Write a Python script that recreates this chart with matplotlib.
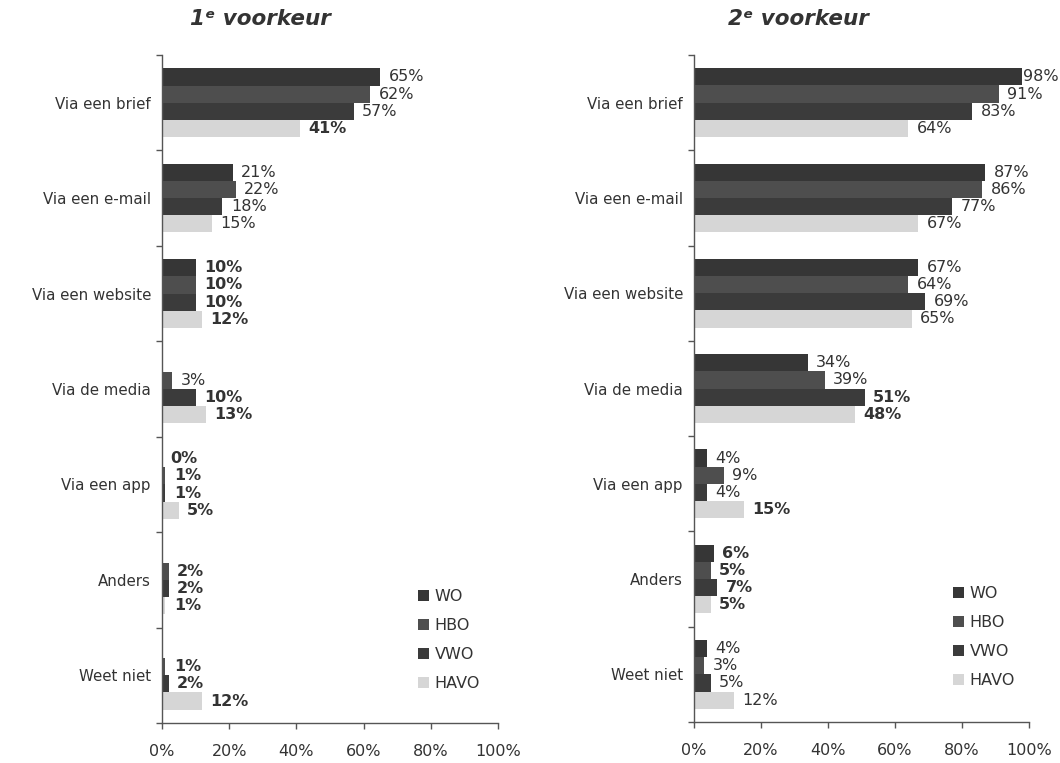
import numpy as np
import matplotlib
matplotlib.use("Agg")
import matplotlib.pyplot as plt
from matplotlib.patches import Patch
from matplotlib.ticker import FixedLocator

categories = ["Via een brief", "Via een e-mail", "Via een website", "Via de media",
              "Via een app", "Anders", "Weet niet"]
series = ["WO", "HBO", "VWO", "HAVO"]

# 1e voorkeur (percent), per category: WO, HBO, VWO, HAVO (nan = not shown)
v1_wo   = [65, 21, 10, np.nan, 0, np.nan, np.nan]
v1_hbo  = [62, 22, 10, 3, 1, 2, 1]
v1_vwo  = [57, 18, 10, 10, 1, 2, 2]
v1_havo = [41, 15, 12, 13, 5, 1, 12]

# 2e voorkeur
v2_wo   = [98, 87, 67, 34, 4, 6, 4]
v2_hbo  = [91, 86, 64, 39, 9, 5, 3]
v2_vwo  = [83, 77, 69, 51, 4, 7, 5]
v2_havo = [64, 67, 65, 48, 15, 5, 12]

titles = ["1\u1d49 voorkeur", "2\u1d49 voorkeur"]
xticks = [0, 20, 40, 60, 80, 100]

# label weight emphasis as seen in the print (style only)
bold1 = {"WO": [0, 0, 1, 0, 1, 0, 0], "HBO": [0, 0, 1, 0, 1, 1, 1],
         "VWO": [0, 0, 1, 1, 1, 1, 1], "HAVO": [1, 0, 1, 1, 1, 1, 1]}
bold2 = {"WO": [0, 0, 0, 0, 0, 1, 0], "HBO": [0, 0, 0, 0, 0, 1, 0],
         "VWO": [0, 0, 0, 1, 0, 1, 0], "HAVO": [0, 0, 0, 1, 1, 1, 0]}

colors = {"WO": "#363636", "HBO": "#4e4e4e", "VWO": "#3b3b3b", "HAVO": "#d6d6d6"}
txt = "#333333"

fig = plt.figure(figsize=(10.6, 7.63), dpi=100)
W, H = 1060, 763
ax1 = fig.add_axes([162 / W, 1 - 723 / H, 336 / W, 668 / H])
ax2 = fig.add_axes([694 / W, 1 - 722 / H, 335 / W, 667 / H])

panels = [
    (ax1, [v1_wo, v1_hbo, v1_vwo, v1_havo], bold1, titles[0], 260, (418, 589)),
    (ax2, [v2_wo, v2_hbo, v2_vwo, v2_havo], bold2, titles[1], 798, (953, 586)),
]

ypos = np.arange(len(categories))
bh = 0.18
offs = [-0.27, -0.09, 0.09, 0.27]

for ax, vals, bold, title, tx, lg in panels:
    for s, v, off in zip(series, vals, offs):
        v = np.array(v, dtype=float)
        ax.barh(ypos + off, np.nan_to_num(v), height=bh, color=colors[s],
                edgecolor="none")
        for i, val in enumerate(v):
            if np.isnan(val):
                continue
            dx = 0.5 if val > 95 else 6
            ax.annotate(f"{int(val)}%", xy=(val, ypos[i] + off), xytext=(dx, 0),
                        textcoords="offset points", ha="left", va="center",
                        fontsize=11.5, color=txt,
                        fontweight="bold" if bold[s][i] else "normal")
    ax.set_xlim(0, 100)
    ax.set_ylim(len(categories) - 0.5, -0.5)
    ax.set_xticks(xticks)
    ax.set_xticklabels([f"{t}%" for t in xticks], fontsize=11.5, color=txt)
    ax.set_yticks(ypos)
    ax.set_yticklabels(categories, fontsize=10.8, color=txt)
    ax.yaxis.set_minor_locator(FixedLocator(np.arange(-0.5, len(categories), 1.0)))
    ax.tick_params(axis="y", which="major", length=0, pad=8)
    ax.tick_params(axis="y", which="minor", length=4, color="#555555", width=1)
    ax.tick_params(axis="x", which="major", length=4, color="#555555", width=1,
                   pad=11)
    for sp in ["top", "right"]:
        ax.spines[sp].set_visible(False)
    for sp in ["left", "bottom"]:
        ax.spines[sp].set_color("#555555")
        ax.spines[sp].set_linewidth(1)
    fig.text(tx / W, 1 - 19 / H, title, ha="center", va="center", fontsize=15.5,
             fontweight="bold", fontstyle="italic", color="#333333")
    handles = [Patch(facecolor=colors[s], edgecolor="none", label=s) for s in series]
    ax.legend(handles=handles, loc="upper left",
              bbox_to_anchor=(lg[0] / W, 1 - lg[1] / H),
              bbox_transform=fig.transFigure, frameon=False, fontsize=11.5,
              handlelength=0.7, handleheight=0.7, handletextpad=0.35,
              labelspacing=0.88, borderpad=0, borderaxespad=0,
              labelcolor=txt)

fig.savefig("out.png", dpi=100, facecolor="white")
